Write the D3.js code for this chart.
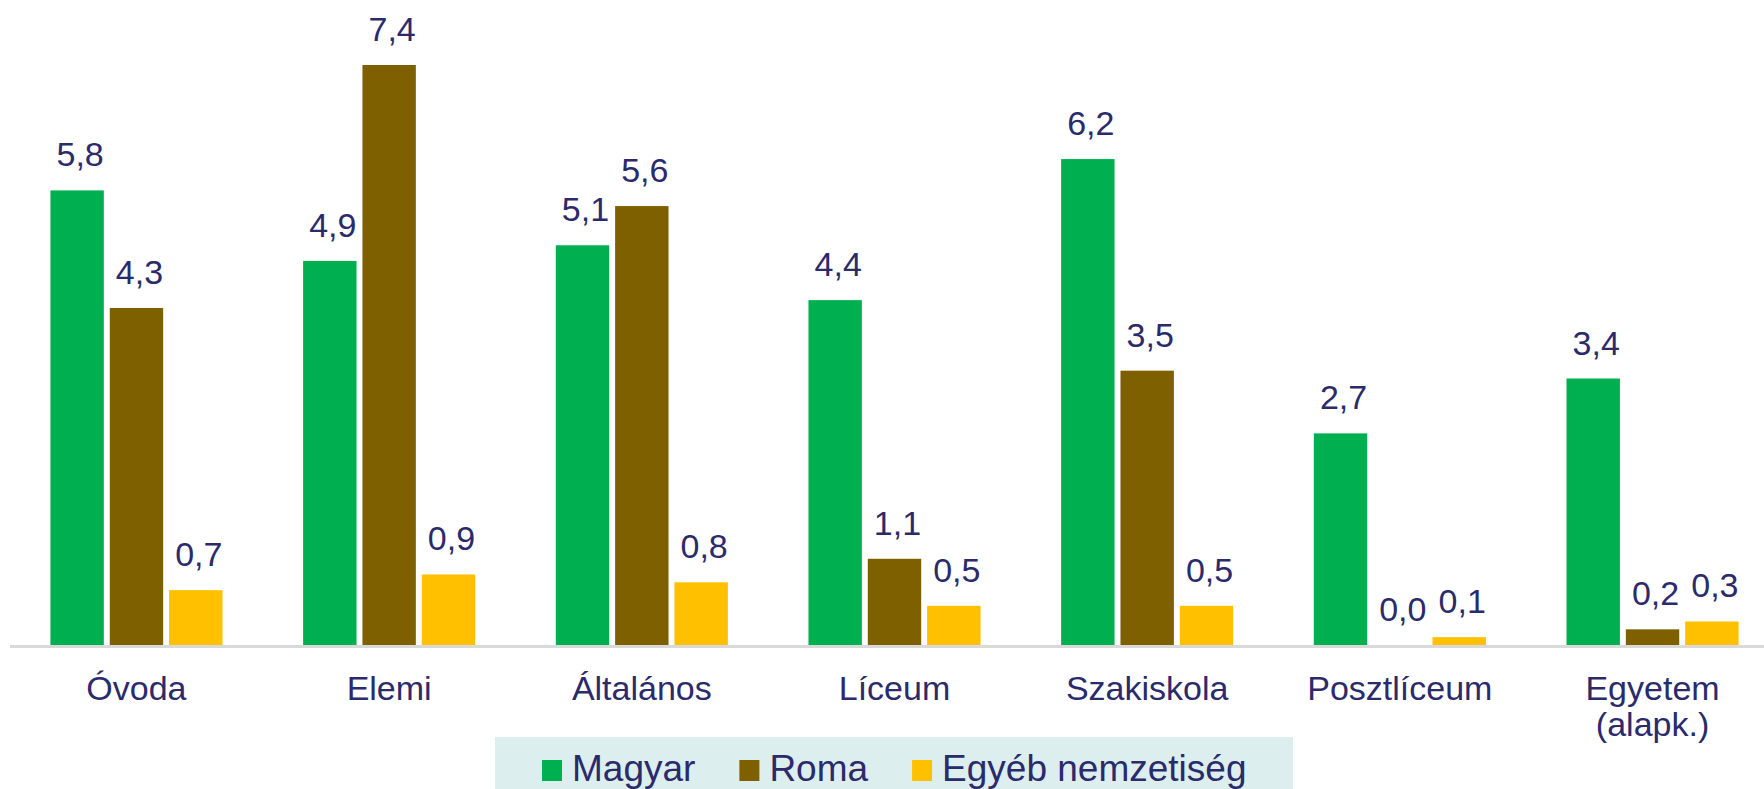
<!DOCTYPE html>
<html lang="hu">
<head>
  <meta charset="UTF-8">
  <title>Nemzetiség szerinti megoszlás oktatási szintenként</title>
  <style>
    body {
      margin: 0;
      background: #fff;
      font-family: "Liberation Sans", Arial, sans-serif;
    }
    svg { display: block; }
    .value-label, .cat-label, .legend text {
      fill: #2b2a6b;
    }
  </style>
  <script src="https://d3js.org/d3.v7.min.js"></script>
</head>
<body>

<svg id="chart"></svg>

<script>
  // Data
  const categories = ["Óvoda", "Elemi", "Általános", "Líceum", "Szakiskola", "Posztlíceum", "Egyetem\n(alapk.)"];
  const seriesNames = ["Magyar", "Roma", "Egyéb nemzetiség"];
  const magyar = [5.8, 4.9, 5.1, 4.4, 6.2, 2.7, 3.4];
  const roma = [4.3, 7.4, 5.6, 1.1, 3.5, 0.0, 0.2];
  const egyeb = [0.7, 0.9, 0.8, 0.5, 0.5, 0.1, 0.3];
  const colors = ["#00b050", "#7f6000", "#ffc000"];

  const width = 1764, height = 789;
  const baseY = 645;

  const svg = d3.select("#chart")
    .attr("width", width)
    .attr("height", height);

  const seriesValues = [magyar, roma, egyeb];
  const data = categories.map((c, i) => ({
    cat: c,
    values: seriesNames.map((s, j) => ({ key: s, value: seriesValues[j][i], color: colors[j] }))
  }));

  // Scales
  const x0 = d3.scaleBand()
    .domain(categories)
    .range([10, 1779])
    .paddingInner(0.319)
    .paddingOuter(0.16);

  const x1 = d3.scaleBand()
    .domain(seriesNames)
    .range([0, x0.bandwidth()])
    .paddingInner(0.1);

  const y = d3.scaleLinear()
    .domain([0, 7.4])
    .range([baseY, 65]);

  // Bars
  const groups = svg.append("g")
    .selectAll("g")
    .data(data)
    .join("g")
    .attr("transform", d => `translate(${x0(d.cat)},0)`);

  groups.selectAll("rect")
    .data(d => d.values)
    .join("rect")
    .attr("x", d => x1(d.key))
    .attr("y", d => y(d.value))
    .attr("width", x1.bandwidth())
    .attr("height", d => y(0) - y(d.value))
    .attr("fill", d => d.color);

  groups.selectAll("text.value-label")
    .data(d => d.values)
    .join("text")
    .attr("class", "value-label")
    .attr("x", d => x1(d.key) + x1.bandwidth() / 2 + 3)
    .attr("y", d => y(d.value) - 24)
    .attr("text-anchor", "middle")
    .attr("font-size", 34)
    .text(d => d3.format(".1f")(d.value).replace(".", ","));

  // Axis line
  svg.append("line")
    .attr("x1", 10)
    .attr("x2", width)
    .attr("y1", baseY + 1.5)
    .attr("y2", baseY + 1.5)
    .attr("stroke", "#d9d9d9")
    .attr("stroke-width", 3);

  // Category labels
  const catLabels = svg.append("g")
    .selectAll("text")
    .data(categories)
    .join("text")
    .attr("class", "cat-label")
    .attr("text-anchor", "middle")
    .attr("font-size", 34)
    .attr("x", d => x0(d) + x0.bandwidth() / 2)
    .attr("y", 700);

  catLabels.selectAll("tspan")
    .data(d => d.split("\n").map(line => ({ line, x: x0(d) + x0.bandwidth() / 2 })))
    .join("tspan")
    .attr("x", d => d.x)
    .attr("dy", (d, i) => i === 0 ? 0 : 36)
    .text(d => d.line);

  // Legend
  const legend = svg.append("g").attr("class", "legend");
  legend.append("rect")
    .attr("x", 495)
    .attr("y", 737)
    .attr("width", 798)
    .attr("height", 60)
    .attr("fill", "#dcefee");

  let lx = 542;
  seriesNames.forEach((name, i) => {
    legend.append("rect")
      .attr("x", lx)
      .attr("y", 760)
      .attr("width", 20)
      .attr("height", 21)
      .attr("fill", colors[i]);
    const t = legend.append("text")
      .attr("x", lx + 30)
      .attr("y", 781)
      .attr("font-size", 37)
      .text(name);
    lx += 30 + t.node().getComputedTextLength() + 44;
  });
</script>

</body>
</html>
